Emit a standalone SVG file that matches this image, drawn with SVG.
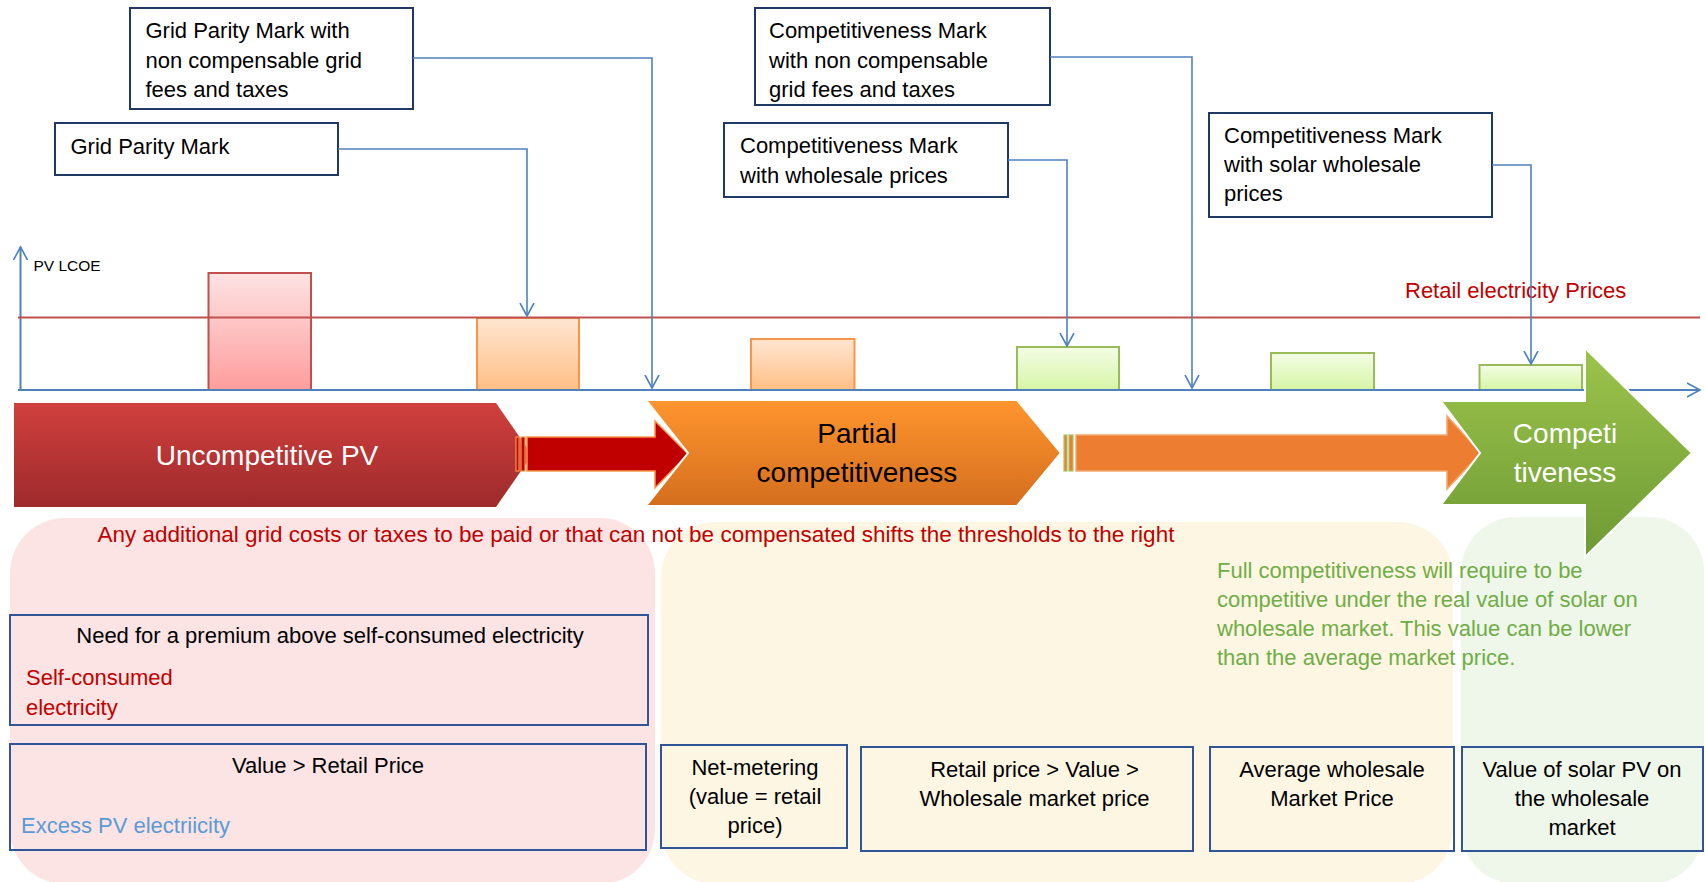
<svg xmlns="http://www.w3.org/2000/svg" width="1705" height="882" viewBox="0 0 1705 882">
<style>
text{font-family:"Liberation Sans",Arial,sans-serif;}
.box{fill:#fff;stroke:#1F3864;stroke-width:2;}
.obox{fill:none;stroke:#2F5597;stroke-width:2;}
.t{font-size:22px;fill:#000;}
.tc{font-size:22px;fill:#000;text-anchor:middle;}
.conn{fill:none;stroke:#4F81BD;stroke-width:1.6;marker-end:url(#v);}
.axis{fill:none;stroke:#4F81BD;stroke-width:2;marker-end:url(#v);}
.big{font-size:28px;text-anchor:middle;}
</style>
<defs>
<marker id="v" markerUnits="userSpaceOnUse" markerWidth="18" markerHeight="18" refX="13" refY="8" orient="auto">
<path d="M0,1 L13,8 L0,15" fill="none" stroke="#4F81BD" stroke-width="1.6"/>
</marker>
<linearGradient id="gRedBar" x1="0" y1="0" x2="0" y2="1"><stop offset="0" stop-color="#FDE3E3"/><stop offset="1" stop-color="#FF9D9D"/></linearGradient>
<linearGradient id="gOrBar" x1="0" y1="0" x2="0" y2="1"><stop offset="0" stop-color="#FFE6D2"/><stop offset="1" stop-color="#FFBF86"/></linearGradient>
<linearGradient id="gGrBar" x1="0" y1="0" x2="0" y2="1"><stop offset="0" stop-color="#F4FDE6"/><stop offset="1" stop-color="#D6F5A6"/></linearGradient>
<linearGradient id="gRed" x1="0" y1="0" x2="0" y2="1"><stop offset="0" stop-color="#D0403E"/><stop offset="1" stop-color="#9E2A2B"/></linearGradient>
<linearGradient id="gOr" x1="0" y1="0" x2="0" y2="1"><stop offset="0" stop-color="#FF952E"/><stop offset="1" stop-color="#D46E1E"/></linearGradient>
<linearGradient id="gGr" x1="0" y1="0" x2="0" y2="1"><stop offset="0" stop-color="#9CC44C"/><stop offset="1" stop-color="#6E9A34"/></linearGradient>
</defs>

<!-- background regions -->
<g id="regions">
<rect x="10" y="518" width="645" height="366" rx="55" fill="#FCE4E4"/>
<rect x="661" y="522" width="792" height="362" rx="55" fill="#FDF6E3"/>
<rect x="1461" y="517" width="243" height="367" rx="55" fill="#EFF6EA"/>
</g>

<!-- chart bars -->
<g id="bars">
<rect x="208.5" y="273" width="102.5" height="117" fill="url(#gRedBar)" stroke="#C0504D" stroke-width="2"/>
<rect x="477" y="318" width="102" height="72" fill="url(#gOrBar)" stroke="#F79646" stroke-width="2"/>
<rect x="751" y="339" width="103.5" height="51" fill="url(#gOrBar)" stroke="#F79646" stroke-width="2"/>
<rect x="1017" y="347" width="102" height="43" fill="url(#gGrBar)" stroke="#9BBB59" stroke-width="2"/>
<rect x="1271" y="353" width="103" height="37" fill="url(#gGrBar)" stroke="#9BBB59" stroke-width="2"/>
<rect x="1479.5" y="365" width="102.5" height="25" fill="url(#gGrBar)" stroke="#9BBB59" stroke-width="2"/>
</g>

<g id="axes">
<path class="axis" d="M20.5,390 V247"/>
<path class="axis" d="M18,390 H1700"/>
<line x1="18" y1="317.5" x2="1700" y2="317.5" stroke="#C0504D" stroke-width="2"/>
<text x="33.5" y="271" style="font-size:15.5px" fill="#000">PV LCOE</text>
<text x="1405" y="298" style="font-size:22px" fill="#C00000">Retail electricity Prices</text>
</g>

<!-- stage arrows -->
<g id="stage-uncompetitive">
<polygon points="14,403 496,403 532,455 496,507 14,507" fill="url(#gRed)"/>
<text class="big" x="267" y="465" fill="#fff">Uncompetitive PV</text>
</g>
<g id="arrow-red">
<rect x="516" y="437" width="3" height="34" fill="#C00000" stroke="#F79646" stroke-width="1.2"/>
<rect x="521" y="437" width="4" height="34" fill="#C00000" stroke="#F79646" stroke-width="1.2"/>
<polygon points="527,437 655,437 655,421 688,454 655,488 655,471 527,471" fill="#C00000" stroke="#F79646" stroke-width="1.5"/>
</g>
<g id="stage-partial">
<polygon points="646,400 1017,400 1061,453 1017,506 646,506 688,453" fill="url(#gOr)" stroke="#fff" stroke-width="2"/>
<text class="big" x="857" y="443" fill="#000">Partial</text>
<text class="big" x="857" y="482" fill="#000">competitiveness</text>
</g>
<g id="arrow-orange">
<rect x="1064" y="435" width="3" height="36" fill="#ED7D31" stroke="#A9C46A" stroke-width="1.2"/>
<rect x="1069" y="435" width="4" height="36" fill="#ED7D31" stroke="#A9C46A" stroke-width="1.2"/>
<polygon points="1076,435 1447,435 1447,416 1481,453 1447,489 1447,471 1076,471" fill="#ED7D31" stroke="#F4A86E" stroke-width="1.5"/>
</g>
<g id="stage-competitiveness">
<polygon points="1441,401 1585,401 1585,348 1692,453 1585,557 1585,505 1441,505 1480,453" fill="url(#gGr)" stroke="#fff" stroke-width="2"/>
<text class="big" x="1565" y="443" fill="#fff">Competi</text>
<text class="big" x="1565" y="482" fill="#fff">tiveness</text>
</g>

<!-- top label nodes -->
<g id="n-gpm-fees">
<rect class="box" x="130" y="8" width="283" height="101"/>
<text class="t" x="145.5" y="38">Grid Parity Mark with</text>
<text class="t" x="145.5" y="68">non compensable grid</text>
<text class="t" x="145.5" y="97">fees and taxes</text>
</g>
<g id="n-gpm">
<rect class="box" x="55" y="123" width="283" height="52"/>
<text class="t" x="70.5" y="154">Grid Parity Mark</text>
</g>
<g id="n-cm-fees">
<rect class="box" x="755" y="8" width="295" height="97"/>
<text class="t" x="769" y="38">Competitiveness Mark</text>
<text class="t" x="769" y="68">with non compensable</text>
<text class="t" x="769" y="97">grid fees and taxes</text>
</g>
<g id="n-cm-wholesale">
<rect class="box" x="724" y="123" width="284" height="74"/>
<text class="t" x="740" y="153">Competitiveness Mark</text>
<text class="t" x="740" y="183">with wholesale prices</text>
</g>
<g id="n-cm-solar">
<rect class="box" x="1209" y="113" width="283" height="104"/>
<text class="t" x="1224" y="143">Competitiveness Mark</text>
<text class="t" x="1224" y="172">with solar wholesale</text>
<text class="t" x="1224" y="201">prices</text>
</g>

<g id="connectors">
<path class="conn" d="M338,149 H527 V316"/>
<path class="conn" d="M413,58 H652 V388"/>
<path class="conn" d="M1050,57 H1192 V388"/>
<path class="conn" d="M1008,160 H1067 V346"/>
<path class="conn" d="M1492,165 H1531 V364"/>
</g>

<!-- notes -->
<g id="note-shift">
<text x="97.5" y="542" style="font-size:22.5px" fill="#C00000">Any additional grid costs or taxes to be paid or that can not be compensated shifts the thresholds to the right</text>
</g>
<g id="note-full" style="font-size:22px" fill="#70AD47">
<text x="1217" y="578">Full competitiveness will require to be</text>
<text x="1217" y="607">competitive under the real value of solar on</text>
<text x="1217" y="636">wholesale market. This value can be lower</text>
<text x="1217" y="665">than the average market price.</text>
</g>

<!-- bottom boxes -->
<g id="b-premium">
<rect class="obox" x="10" y="615" width="638" height="110"/>
<text class="tc" x="330" y="643">Need for a premium above self-consumed electricity</text>
<text x="26" y="685" style="font-size:22px" fill="#C00000">Self-consumed</text>
<text x="26" y="715" style="font-size:22px" fill="#C00000">electricity</text>
</g>
<g id="b-retail">
<rect class="obox" x="10" y="744" width="636" height="106"/>
<text class="tc" x="328" y="773">Value &gt; Retail Price</text>
<text x="21" y="833" style="font-size:22px" fill="#5B9BD5">Excess PV electriicity</text>
</g>
<g id="b-netmetering">
<rect class="obox" x="661" y="745" width="186" height="103"/>
<text class="tc" x="755" y="775">Net-metering</text>
<text class="tc" x="755" y="804">(value = retail</text>
<text class="tc" x="755" y="833">price)</text>
</g>
<g id="b-between">
<rect class="obox" x="861" y="747" width="332" height="104"/>
<text class="tc" x="1034.5" y="777">Retail price &gt; Value &gt;</text>
<text class="tc" x="1034.5" y="806">Wholesale market price</text>
</g>
<g id="b-average">
<rect class="obox" x="1210" y="747" width="244" height="104"/>
<text class="tc" x="1332" y="777">Average wholesale</text>
<text class="tc" x="1332" y="806">Market Price</text>
</g>
<g id="b-solarvalue">
<rect class="obox" x="1462" y="747" width="241" height="104"/>
<text class="tc" x="1582" y="777">Value of solar PV on</text>
<text class="tc" x="1582" y="806">the wholesale</text>
<text class="tc" x="1582" y="835">market</text>
</g>
</svg>
